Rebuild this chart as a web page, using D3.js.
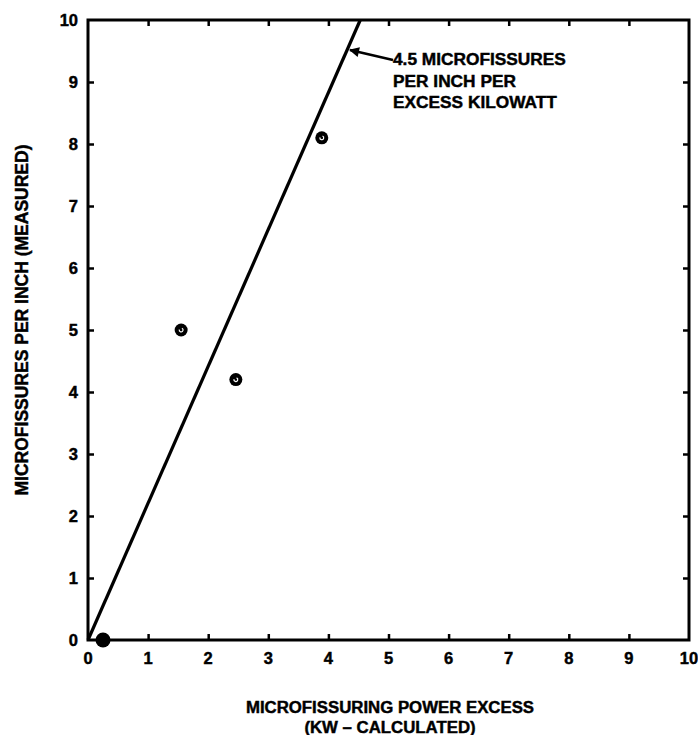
<!DOCTYPE html>
<html><head><meta charset="utf-8">
<script src="https://cdn.jsdelivr.net/npm/d3@7"></script>
<style>
body{margin:0;background:#fff;}
text{font-family:"Liberation Sans",Arial,sans-serif;font-weight:bold;fill:#000;stroke:#000;stroke-width:0.45;}
</style></head>
<body><svg id="c" width="698" height="735"></svg>
<script>
const xTickValues = [0,1,2,3,4,5,6,7,8,9,10];
const yTickValues = [0,1,2,3,4,5,6,7,8,9,10];
const pointX = [0.25, 1.55, 2.46, 3.89];
const pointY = [0, 5.0, 4.2, 8.1];
const fitX = [0, 4.53];
const fitY = [0, 10];
const annotationLines = ["4.5 MICROFISSURES","PER INCH PER","EXCESS KILOWATT"];
const xTitle = ["MICROFISSURING POWER EXCESS","(KW \u2013 CALCULATED)"];
const yTitle = "MICROFISSURES PER INCH (MEASURED)";

const svg = d3.select("#c");
const L=88, R=689, T=20, B=640;
const x = d3.scaleLinear().domain([0,10]).range([L,R]);
const y = d3.scaleLinear().domain([0,10]).range([B,T]);

// frame
svg.append("rect").attr("x",L).attr("y",T).attr("width",R-L).attr("height",B-T)
  .attr("fill","none").attr("stroke","#000").attr("stroke-width",3);

const inner = xTickValues.slice(1,-1);
const innerY = yTickValues.slice(1,-1);
function noDomain(g){ g.select(".domain").remove(); g.selectAll("line").attr("stroke-width",2.5); }
svg.append("g").attr("transform",`translate(0,${B})`)
  .call(d3.axisTop(x).tickValues(inner).tickSize(6).tickFormat("")).call(noDomain);
svg.append("g").attr("transform",`translate(0,${T})`)
  .call(d3.axisBottom(x).tickValues(inner).tickSize(6).tickFormat("")).call(noDomain);
svg.append("g").attr("transform",`translate(${L},0)`)
  .call(d3.axisRight(y).tickValues(innerY).tickSize(6).tickFormat("")).call(noDomain);
svg.append("g").attr("transform",`translate(${R},0)`)
  .call(d3.axisLeft(y).tickValues(innerY).tickSize(6).tickFormat("")).call(noDomain);

// tick labels
svg.append("g").selectAll("text").data(xTickValues).join("text")
  .attr("x",d=>x(d)).attr("y",B+24).attr("text-anchor","middle")
  .attr("font-size",16.5).text(d=>d);
svg.append("g").selectAll("text").data(yTickValues).join("text")
  .attr("x",L-10).attr("y",d=>y(d)+6).attr("text-anchor","end")
  .attr("font-size",16.5).text(d=>d);

// fit line
const line = d3.line().x(d=>x(d[0])).y(d=>y(d[1]));
svg.append("path").datum(fitX.map((v,i)=>[v,fitY[i]])).attr("d",line)
  .attr("fill","none").attr("stroke","#000").attr("stroke-width",3.2);

// points
const pts = pointX.map((v,i)=>[v,pointY[i]]);
const pg = svg.append("g").selectAll("g").data(pts).join("g")
  .attr("transform",d=>`translate(${x(d[0])},${y(d[1])})`);
pg.append("circle").attr("r",(d,i)=>i===0?7.5:6.5).attr("fill","#000");
pg.filter((d,i)=>i>0).append("path")
  .attr("d",d3.arc()({innerRadius:1.3,outerRadius:2.5,startAngle:0.4,endAngle:Math.PI*2-1.3}))
  .attr("fill","#fff");

// annotation arrow
svg.append("defs").append("marker").attr("id","ah").attr("viewBox","0 0 10 10")
  .attr("refX",9).attr("refY",5).attr("markerWidth",5).attr("markerHeight",4)
  .attr("orient","auto").attr("markerUnits","strokeWidth")
  .append("path").attr("d","M0,0L10,5L0,10z").attr("fill","#000");
svg.append("line").attr("x1",393).attr("y1",60).attr("x2",350).attr("y2",50)
  .attr("stroke","#000").attr("stroke-width",2.5).attr("marker-end","url(#ah)");
svg.append("g").selectAll("text").data(annotationLines).join("text")
  .attr("x",393).attr("y",(d,i)=>65+i*21.5).attr("font-size",17.3).text(d=>d);

// axis titles
svg.append("g").selectAll("text").data(xTitle).join("text")
  .attr("x",390).attr("y",(d,i)=>713+i*19.5).attr("text-anchor","middle")
  .attr("font-size",16.8).text(d=>d);
svg.append("text").attr("transform","translate(28,320) rotate(-90)")
  .attr("text-anchor","middle").attr("font-size",17.5).text(yTitle);
</script></body></html>
